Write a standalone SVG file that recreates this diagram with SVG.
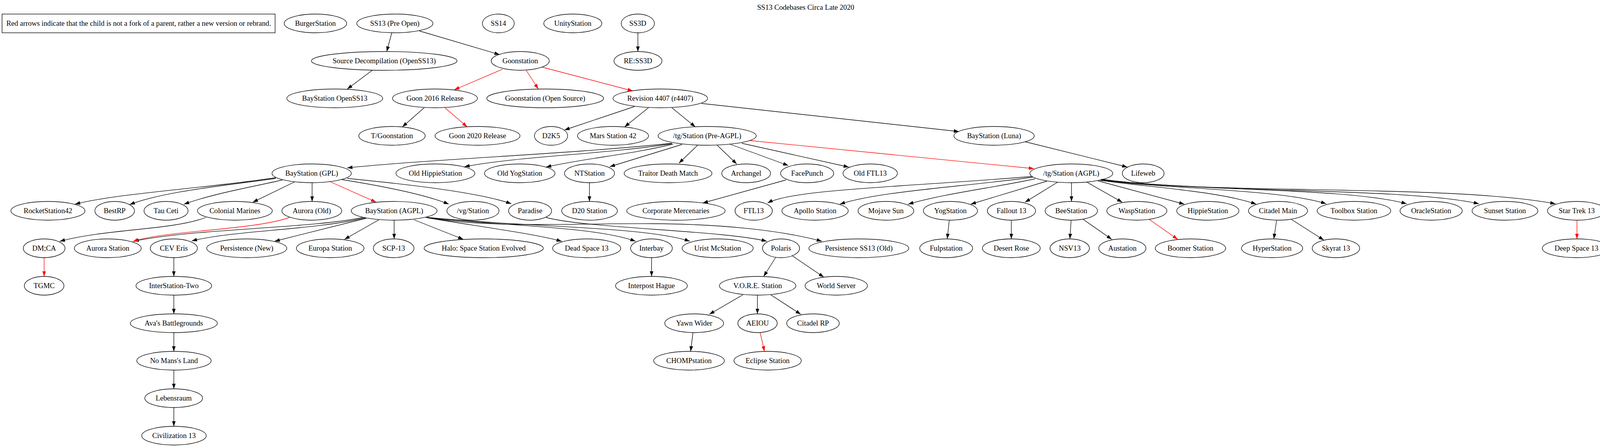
<svg xmlns="http://www.w3.org/2000/svg" width="4125" height="1145" viewBox="0 0 4125 1145">
<style>
.n ellipse, .n rect {fill:none; stroke:#000; stroke-width:1.33}
text {font-family:"Liberation Serif","Times New Roman",serif; font-size:18.67px; text-anchor:middle; fill:#000}
#edges path {fill:none; stroke:#000; stroke-width:1.33; marker-end:url(#ab)}
#edges path.r {stroke:#f00; marker-end:url(#ar)}
</style>
<defs>
<marker id="ab" viewBox="0 0 10 7" refX="10" refY="3.5" markerWidth="13.3" markerHeight="9.3" markerUnits="userSpaceOnUse" orient="auto"><path d="M0,0 L10,3.5 L0,7 z" fill="#000"/></marker>
<marker id="ar" viewBox="0 0 10 7" refX="10" refY="3.5" markerWidth="13.3" markerHeight="9.3" markerUnits="userSpaceOnUse" orient="auto"><path d="M0,0 L10,3.5 L0,7 z" fill="#f00"/></marker>
</defs>
<rect x="0" y="0" width="4125" height="1145" fill="#fff"/>
<text x="2062.5" y="25">SS13 Codebases Circa Late 2020</text>

<g id="edges">
<path d="M1003,84 L990,132"/>
<path d="M1073,79 L1279,140"/>
<path d="M953,180 L889,228"/>
<path d="M1633,84 L1633,132"/>
<path d="M1086,276 L1030,325"/>
<path d="M1624,273 L1445,333"/>
<path d="M1660,276 L1599,325"/>
<path d="M1720,276 L1780,325"/>
<path d="M1796,265 L2455,337"/>
<path d="M2624,363 L2886,428"/>
<path d="M1720,367 C1450,395 1100,408 889,430"/>
<path d="M1720,368 C1550,395 1330,400 1189,427"/>
<path d="M1723,369 C1620,395 1500,405 1398,428"/>
<path d="M1746,370 L1561,427"/>
<path d="M1786,372 L1738,418"/>
<path d="M1836,372 L1886,420"/>
<path d="M1868,369 L2018,424"/>
<path d="M1899,367 L2173,428"/>
<path d="M1509,468 L1509,516"/>
<path d="M2012,461 L1799,520"/>
<path d="M706,455 C550,480 300,495 192,523"/>
<path d="M706,457 C580,475 420,490 332,524"/>
<path d="M723,461 C640,480 550,495 471,523"/>
<path d="M754,466 L647,518"/>
<path d="M799,468 L799,516"/>
<path d="M875,460 C950,472 1080,495 1149,523"/>
<path d="M889,457 C1000,468 1220,490 1309,522"/>
<path d="M527,557 C440,590 280,585 153,618"/>
<path d="M929,557 C800,585 500,585 342,618"/>
<path d="M935,558 C800,590 600,590 491,617"/>
<path d="M938,559 L703,618"/>
<path d="M970,563 L882,613"/>
<path d="M1009,564 L1009,612"/>
<path d="M1060,563 L1186,613"/>
<path d="M1090,557 C1200,577 1350,595 1438,618"/>
<path d="M1093,557 C1300,580 1520,580 1627,618"/>
<path d="M1094,557 C1350,582 1650,580 1766,618"/>
<path d="M1095,557 C1250,585 1450,572 1670,573 C1850,574 2000,590 2104,618"/>
<path d="M1398,557 C1500,585 1850,590 1963,618"/>
<path d="M1668,660 L1668,708"/>
<path d="M1986,659 L1955,708"/>
<path d="M2028,655 L2109,710"/>
<path d="M1902,755 L1816,805"/>
<path d="M1939,756 L1939,804"/>
<path d="M1973,755 L2050,805"/>
<path d="M1774,852 L1768,900"/>
<path d="M445,660 L445,708"/>
<path d="M445,756 L445,804"/>
<path d="M445,852 L445,900"/>
<path d="M445,948 L445,996"/>
<path d="M445,1044 L445,1092"/>
<path d="M2642,452 C2300,480 2030,485 1965,520"/>
<path d="M2644,454 C2450,480 2250,490 2150,523"/>
<path d="M2650,458 C2550,480 2420,495 2325,523"/>
<path d="M2680,464 L2485,523"/>
<path d="M2707,467 L2624,518"/>
<path d="M2743,468 L2743,516"/>
<path d="M2783,467 L2873,518"/>
<path d="M2810,463 L3032,523"/>
<path d="M2816,462 C2950,480 3120,490 3216,523"/>
<path d="M2818,461 C3000,485 3280,485 3395,522"/>
<path d="M2819,460 C3050,490 3450,480 3601,522"/>
<path d="M2820,460 C3100,495 3600,480 3786,522"/>
<path d="M2820,459 C3100,500 3700,470 3982,522"/>
<path d="M2430,565 L2425,612"/>
<path d="M2589,565 L2589,612"/>
<path d="M2742,565 L2739,612"/>
<path d="M2773,562 L2846,613"/>
<path d="M3268,565 L3261,612"/>
<path d="M3306,562 L3389,615"/>
<path class="r" d="M1287,177 L1163,230"/>
<path class="r" d="M1347,180 L1378,228"/>
<path class="r" d="M1388,172 L1620,233"/>
<path class="r" d="M1139,276 L1196,325"/>
<path class="r" d="M1919,360 L2647,432"/>
<path class="r" d="M844,465 L963,518"/>
<path class="r" d="M741,557 C650,590 420,590 340,619"/>
<path class="r" d="M113,660 L113,708"/>
<path class="r" d="M2942,562 L3015,613"/>
<path class="r" d="M4037,565 L4037,612"/>
<path class="r" d="M1946,852 L1957,900"/>
</g>

<g id="legend" class="n"><rect x="5.3" y="36" width="699" height="48"/><text x="355" y="66">Red arrows indicate that the child is not a fork of a parent, rather a new version or rebrand.</text></g>
<g id="burger" class="n"><ellipse cx="807.5" cy="60" rx="80" ry="24"/><text x="807.5" y="66">BurgerStation</text></g>
<g id="ss13" class="n"><ellipse cx="1010.8" cy="60" rx="97.5" ry="24"/><text x="1010.8" y="66">SS13 (Pre Open)</text></g>
<g id="ss14" class="n"><ellipse cx="1275.8" cy="60" rx="40.8" ry="24"/><text x="1275.8" y="66">SS14</text></g>
<g id="unity" class="n"><ellipse cx="1466.4" cy="60" rx="74.3" ry="24"/><text x="1466.4" y="66">UnityStation</text></g>
<g id="ss3d" class="n"><ellipse cx="1632.8" cy="60" rx="42.5" ry="24"/><text x="1632.8" y="66">SS3D</text></g>

<g id="srcdecomp" class="n"><ellipse cx="983.6" cy="156" rx="186.4" ry="24"/><text x="983.6" y="162">Source Decompilation (OpenSS13)</text></g>
<g id="goon" class="n"><ellipse cx="1331.8" cy="156" rx="74.3" ry="24"/><text x="1331.8" y="162">Goonstation</text></g>
<g id="ress3d" class="n"><ellipse cx="1633.2" cy="156" rx="61.4" ry="24"/><text x="1633.2" y="162">RE:SS3D</text></g>

<g id="bayopen" class="n"><ellipse cx="857" cy="252" rx="122.7" ry="24"/><text x="857" y="258">BayStation OpenSS13</text></g>
<g id="goon2016" class="n"><ellipse cx="1113.5" cy="252" rx="108.7" ry="24"/><text x="1113.5" y="258">Goon 2016 Release</text></g>
<g id="goonos" class="n"><ellipse cx="1395.7" cy="252" rx="149.6" ry="24"/><text x="1395.7" y="258">Goonstation (Open Source)</text></g>
<g id="r4407" class="n"><ellipse cx="1690.3" cy="252" rx="121" ry="24"/><text x="1690.3" y="258">Revision 4407 (r4407)</text></g>

<g id="tgoon" class="n"><ellipse cx="1003.5" cy="348" rx="85" ry="24"/><text x="1003.5" y="354">T/Goonstation</text></g>
<g id="goon2020" class="n"><ellipse cx="1222.4" cy="348" rx="108.8" ry="24"/><text x="1222.4" y="354">Goon 2020 Release</text></g>
<g id="d2k5" class="n"><ellipse cx="1410.7" cy="348" rx="42.5" ry="24"/><text x="1410.7" y="354">D2K5</text></g>
<g id="mars42" class="n"><ellipse cx="1569.3" cy="348" rx="90.9" ry="24"/><text x="1569.3" y="354">Mars Station 42</text></g>
<g id="tgpre" class="n"><ellipse cx="1810.3" cy="348" rx="125.7" ry="24"/><text x="1810.3" y="354">/tg/Station (Pre-AGPL)</text></g>
<g id="luna" class="n"><ellipse cx="2544.8" cy="348" rx="102.8" ry="24"/><text x="2544.8" y="354">BayStation (Luna)</text></g>

<g id="baygpl" class="n"><ellipse cx="797.9" cy="444" rx="101.5" ry="24"/><text x="797.9" y="450">BayStation (GPL)</text></g>
<g id="oldhippie" class="n"><ellipse cx="1114.6" cy="444" rx="101" ry="24"/><text x="1114.6" y="450">Old HippieStation</text></g>
<g id="oldyog" class="n"><ellipse cx="1330.5" cy="444" rx="90.2" ry="24"/><text x="1330.5" y="450">Old YogStation</text></g>
<g id="ntstation" class="n"><ellipse cx="1509.2" cy="444" rx="64" ry="24"/><text x="1509.2" y="450">NTStation</text></g>
<g id="tdm" class="n"><ellipse cx="1710.2" cy="444" rx="112.4" ry="24"/><text x="1710.2" y="450">Traitor Death Match</text></g>
<g id="archangel" class="n"><ellipse cx="1910.1" cy="444" rx="62.4" ry="24"/><text x="1910.1" y="450">Archangel</text></g>
<g id="facepunch" class="n"><ellipse cx="2066.3" cy="444" rx="68" ry="24"/><text x="2066.3" y="450">FacePunch</text></g>
<g id="oldftl" class="n"><ellipse cx="2227.8" cy="444" rx="69.6" ry="24"/><text x="2227.8" y="450">Old FTL13</text></g>
<g id="tgagpl" class="n"><ellipse cx="2742.5" cy="444" rx="106.1" ry="24"/><text x="2742.5" y="450">/tg/Station (AGPL)</text></g>
<g id="lifeweb" class="n"><ellipse cx="2926.6" cy="444" rx="53.4" ry="24"/><text x="2926.6" y="450">Lifeweb</text></g>

<g id="rocket" class="n"><ellipse cx="122.7" cy="540" rx="94.8" ry="24"/><text x="122.7" y="546">RocketStation42</text></g>
<g id="bestrp" class="n"><ellipse cx="293.5" cy="540" rx="50.7" ry="24"/><text x="293.5" y="546">BestRP</text></g>
<g id="tauceti" class="n"><ellipse cx="425.1" cy="540" rx="56.4" ry="24"/><text x="425.1" y="546">Tau Ceti</text></g>
<g id="colmar" class="n"><ellipse cx="601.2" cy="540" rx="95.8" ry="24"/><text x="601.2" y="546">Colonial Marines</text></g>
<g id="auroraold" class="n"><ellipse cx="798.2" cy="540" rx="76.6" ry="24"/><text x="798.2" y="546">Aurora (Old)</text></g>
<g id="bayagpl" class="n"><ellipse cx="1009" cy="540" rx="109.8" ry="24"/><text x="1009" y="546">BayStation (AGPL)</text></g>
<g id="vg" class="n"><ellipse cx="1210.8" cy="540" rx="66.7" ry="24"/><text x="1210.8" y="546">/vg/Station</text></g>
<g id="paradise" class="n"><ellipse cx="1357" cy="540" rx="55" ry="24"/><text x="1357" y="546">Paradise</text></g>
<g id="d20" class="n"><ellipse cx="1509.2" cy="540" rx="71.3" ry="24"/><text x="1509.2" y="546">D20 Station</text></g>
<g id="corpmerc" class="n"><ellipse cx="1730.4" cy="540" rx="126" ry="24"/><text x="1730.4" y="546">Corporate Mercenaries</text></g>
<g id="ftl13" class="n"><ellipse cx="1929.4" cy="540" rx="47.8" ry="24"/><text x="1929.4" y="546">FTL13</text></g>
<g id="apollo" class="n"><ellipse cx="2086.6" cy="540" rx="84.9" ry="24"/><text x="2086.6" y="546">Apollo Station</text></g>
<g id="mojave" class="n"><ellipse cx="2267.9" cy="540" rx="71.3" ry="24"/><text x="2267.9" y="546">Mojave Sun</text></g>
<g id="yog" class="n"><ellipse cx="2433.1" cy="540" rx="69.3" ry="24"/><text x="2433.1" y="546">YogStation</text></g>
<g id="fallout" class="n"><ellipse cx="2589.3" cy="540" rx="61.7" ry="24"/><text x="2589.3" y="546">Fallout 13</text></g>
<g id="bee" class="n"><ellipse cx="2742.5" cy="540" rx="67" ry="24"/><text x="2742.5" y="546">BeeStation</text></g>
<g id="wasp" class="n"><ellipse cx="2910.3" cy="540" rx="76.9" ry="24"/><text x="2910.3" y="546">WaspStation</text></g>
<g id="hippie" class="n"><ellipse cx="3092" cy="540" rx="79.6" ry="24"/><text x="3092" y="546">HippieStation</text></g>
<g id="citadelmain" class="n"><ellipse cx="3271.7" cy="540" rx="75.6" ry="24"/><text x="3271.7" y="546">Citadel Main</text></g>
<g id="toolbox" class="n"><ellipse cx="3466.1" cy="540" rx="94.2" ry="24"/><text x="3466.1" y="546">Toolbox Station</text></g>
<g id="oracle" class="n"><ellipse cx="3663.7" cy="540" rx="79.6" ry="24"/><text x="3663.7" y="546">OracleStation</text></g>
<g id="sunset" class="n"><ellipse cx="3852.7" cy="540" rx="84.2" ry="24"/><text x="3852.7" y="546">Sunset Station</text></g>
<g id="startrek" class="n"><ellipse cx="4036.5" cy="540" rx="75" ry="24"/><text x="4036.5" y="546">Star Trek 13</text></g>

<g id="dmca" class="n"><ellipse cx="113" cy="636" rx="53.4" ry="24"/><text x="113" y="642">DM;CA</text></g>
<g id="aurorastation" class="n"><ellipse cx="275.9" cy="636" rx="85.6" ry="24"/><text x="275.9" y="642">Aurora Station</text></g>
<g id="ceveris" class="n"><ellipse cx="445" cy="636" rx="60.4" ry="24"/><text x="445" y="642">CEV Eris</text></g>
<g id="persnew" class="n"><ellipse cx="631.7" cy="636" rx="102.5" ry="24"/><text x="631.7" y="642">Persistence (New)</text></g>
<g id="europa" class="n"><ellipse cx="845.3" cy="636" rx="86.6" ry="24"/><text x="845.3" y="642">Europa Station</text></g>
<g id="scp13" class="n"><ellipse cx="1007.8" cy="636" rx="52" ry="24"/><text x="1007.8" y="642">SCP-13</text></g>
<g id="halo" class="n"><ellipse cx="1238.3" cy="636" rx="152.6" ry="24"/><text x="1238.3" y="642">Halo: Space Station Evolved</text></g>
<g id="deadspace" class="n"><ellipse cx="1501.9" cy="636" rx="87.2" ry="24"/><text x="1501.9" y="642">Dead Space 13</text></g>
<g id="interbay" class="n"><ellipse cx="1667.7" cy="636" rx="53.4" ry="24"/><text x="1667.7" y="642">Interbay</text></g>
<g id="urist" class="n"><ellipse cx="1837.2" cy="636" rx="90.9" ry="24"/><text x="1837.2" y="642">Urist McStation</text></g>
<g id="polaris" class="n"><ellipse cx="1999.4" cy="636" rx="47.4" ry="24"/><text x="1999.4" y="642">Polaris</text></g>
<g id="persold" class="n"><ellipse cx="2198.6" cy="636" rx="128" ry="24"/><text x="2198.6" y="642">Persistence SS13 (Old)</text></g>
<g id="fulp" class="n"><ellipse cx="2422.2" cy="636" rx="67.7" ry="24"/><text x="2422.2" y="642">Fulpstation</text></g>
<g id="desertrose" class="n"><ellipse cx="2589" cy="636" rx="74" ry="24"/><text x="2589" y="642">Desert Rose</text></g>
<g id="nsv13" class="n"><ellipse cx="2738.5" cy="636" rx="50.4" ry="24"/><text x="2738.5" y="642">NSV13</text></g>
<g id="austation" class="n"><ellipse cx="2873.2" cy="636" rx="60.4" ry="24"/><text x="2873.2" y="642">Austation</text></g>
<g id="boomer" class="n"><ellipse cx="3047.6" cy="636" rx="90.2" ry="24"/><text x="3047.6" y="642">Boomer Station</text></g>
<g id="hyper" class="n"><ellipse cx="3256.5" cy="636" rx="78.3" ry="24"/><text x="3256.5" y="642">HyperStation</text></g>
<g id="skyrat" class="n"><ellipse cx="3420" cy="636" rx="60.7" ry="24"/><text x="3420" y="642">Skyrat 13</text></g>
<g id="deepspace" class="n"><ellipse cx="4035.8" cy="636" rx="87.6" ry="24"/><text x="4035.8" y="642">Deep Space 13</text></g>

<g id="tgmc" class="n"><ellipse cx="113" cy="732" rx="50.7" ry="24"/><text x="113" y="738">TGMC</text></g>
<g id="interstation" class="n"><ellipse cx="445" cy="732" rx="96.8" ry="24"/><text x="445" y="738">InterStation-Two</text></g>
<g id="interpost" class="n"><ellipse cx="1667.7" cy="732" rx="91.9" ry="24"/><text x="1667.7" y="738">Interpost Hague</text></g>
<g id="vore" class="n"><ellipse cx="1939.6" cy="732" rx="97.8" ry="24"/><text x="1939.6" y="738">V.O.R.E. Station</text></g>
<g id="worldserver" class="n"><ellipse cx="2140.8" cy="732" rx="79.8" ry="24"/><text x="2140.8" y="738">World Server</text></g>

<g id="avas" class="n"><ellipse cx="445" cy="828" rx="111.4" ry="24"/><text x="445" y="834">Ava's Battlegrounds</text></g>
<g id="yawn" class="n"><ellipse cx="1777.1" cy="828" rx="75.3" ry="24"/><text x="1777.1" y="834">Yawn Wider</text></g>
<g id="aeiou" class="n"><ellipse cx="1939.3" cy="828" rx="50.4" ry="24"/><text x="1939.3" y="834">AEIOU</text></g>
<g id="citadelrp" class="n"><ellipse cx="2081.3" cy="828" rx="67.3" ry="24"/><text x="2081.3" y="834">Citadel RP</text></g>

<g id="nomans" class="n"><ellipse cx="445.4" cy="924" rx="95.2" ry="24"/><text x="445.4" y="930">No Mans's Land</text></g>
<g id="chomp" class="n"><ellipse cx="1763.9" cy="924" rx="90.5" ry="24"/><text x="1763.9" y="930">CHOMPstation</text></g>
<g id="eclipse" class="n"><ellipse cx="1965.1" cy="924" rx="86.2" ry="24"/><text x="1965.1" y="930">Eclipse Station</text></g>

<g id="lebensraum" class="n"><ellipse cx="444.7" cy="1020" rx="74" ry="24"/><text x="444.7" y="1026">Lebensraum</text></g>
<g id="civ13" class="n"><ellipse cx="445.4" cy="1116" rx="82.6" ry="24"/><text x="445.4" y="1122">Civilization 13</text></g>
</svg>
